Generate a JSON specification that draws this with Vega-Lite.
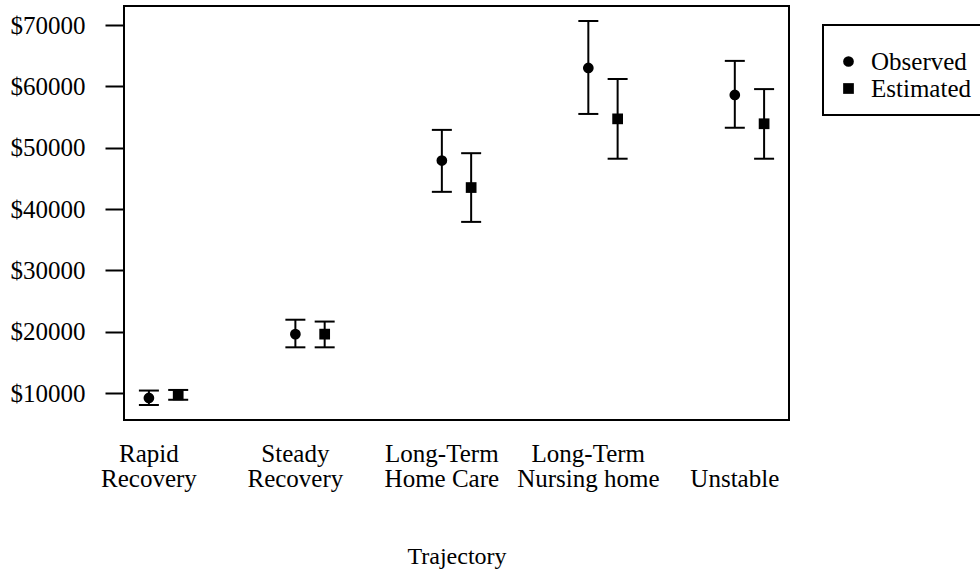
{
  "$schema": "https://vega.github.io/schema/vega-lite/v6.json",
  "width": 665,
  "height": 414,
  "autosize": {"type": "none"},
  "padding": {"left": 124, "top": 6, "right": 191, "bottom": 152},
  "background": "white",
  "config": {
    "view": {"stroke": "black", "strokeWidth": 2},
    "font": "Liberation Serif",
    "legend": {"strokeWidth": 2}
  },
  "data": {
    "values": [
      {"traj": "Rapid Recovery", "type": "Observed", "value": 9200, "lower": 8050, "upper": 10400},
      {"traj": "Rapid Recovery", "type": "Estimated", "value": 9700, "lower": 8900, "upper": 10500},
      {"traj": "Steady Recovery", "type": "Observed", "value": 19600, "lower": 17450, "upper": 21950},
      {"traj": "Steady Recovery", "type": "Estimated", "value": 19600, "lower": 17450, "upper": 21650},
      {"traj": "Long-Term Home Care", "type": "Observed", "value": 47900, "lower": 42800, "upper": 52900},
      {"traj": "Long-Term Home Care", "type": "Estimated", "value": 43500, "lower": 37900, "upper": 49100},
      {"traj": "Long-Term Nursing home", "type": "Observed", "value": 63000, "lower": 55500, "upper": 70650},
      {"traj": "Long-Term Nursing home", "type": "Estimated", "value": 54700, "lower": 48200, "upper": 61200},
      {"traj": "Unstable", "type": "Observed", "value": 58600, "lower": 53250, "upper": 64150},
      {"traj": "Unstable", "type": "Estimated", "value": 53900, "lower": 48200, "upper": 59550}
    ]
  },
  "encoding": {
    "x": {
      "field": "traj",
      "type": "nominal",
      "sort": ["Rapid Recovery", "Steady Recovery", "Long-Term Home Care", "Long-Term Nursing home", "Unstable"],
      "scale": {"paddingInner": 0.6, "paddingOuter": 0.07},
      "axis": {
        "title": "Trajectory",
        "titleFont": "Liberation Serif",
        "titleFontSize": 24,
        "titleFontWeight": "normal",
        "titleColor": "black",
        "titlePadding": 53,
        "labelAngle": 0,
        "labelFont": "Liberation Serif",
        "labelFontSize": 25,
        "labelColor": "black",
        "labelPadding": 21,
        "labelOffset": -14.65,
        "labelLineHeight": 25,
        "labelOverlap": false,
        "labelLimit": 0,
        "ticks": false,
        "tickSize": 0,
        "domain": false,
        "grid": false,
        "labelExpr": "datum.value == 'Rapid Recovery' ? ['Rapid', 'Recovery'] : datum.value == 'Steady Recovery' ? ['Steady', 'Recovery'] : datum.value == 'Long-Term Home Care' ? ['Long-Term', 'Home Care'] : datum.value == 'Long-Term Nursing home' ? ['Long-Term', 'Nursing home'] : [' ', datum.value]"
      }
    },
    "xOffset": {
      "field": "type",
      "type": "nominal",
      "sort": ["Observed", "Estimated"],
      "scale": {"paddingInner": 0, "paddingOuter": 0}
    }
  },
  "layer": [
    {
      "mark": {"type": "rule", "strokeWidth": 2, "color": "black"},
      "encoding": {
        "y": {
          "field": "lower",
          "type": "quantitative",
          "scale": {"domain": [5600, 73100], "nice": false, "zero": false},
          "axis": {
            "title": null,
            "values": [10000, 20000, 30000, 40000, 50000, 60000, 70000],
            "labelExpr": "'$' + datum.value",
            "labelFont": "Liberation Serif",
            "labelFontSize": 25,
            "labelColor": "black",
            "labelPadding": 20,
            "tickSize": 19,
            "tickWidth": 2,
            "tickColor": "black",
            "domain": false,
            "grid": false
          }
        },
        "y2": {"field": "upper"}
      }
    },
    {
      "mark": {"type": "tick", "size": 20, "thickness": 2, "color": "black", "opacity": 1},
      "encoding": {"y": {"field": "lower", "type": "quantitative"}}
    },
    {
      "mark": {"type": "tick", "size": 20, "thickness": 2, "color": "black", "opacity": 1},
      "encoding": {"y": {"field": "upper", "type": "quantitative"}}
    },
    {
      "mark": {"type": "point", "filled": true, "size": 115, "color": "black", "opacity": 1},
      "encoding": {
        "y": {"field": "value", "type": "quantitative"},
        "shape": {
          "field": "type",
          "type": "nominal",
          "scale": {"domain": ["Observed", "Estimated"], "range": ["circle", "square"]},
          "legend": {
            "orient": "none",
            "legendX": 699,
            "legendY": 19,
            "title": " ",
            "titleFontSize": 6,
            "titlePadding": 5,
            "strokeColor": "black",
            "padding": 13,
            "labelFont": "Liberation Serif",
            "labelFontSize": 25,
            "labelColor": "black",
            "labelOffset": 10,
            "rowPadding": 1,
            "symbolSize": 115,
            "symbolFillColor": "black",
            "symbolStrokeColor": "black",
            "symbolOpacity": 1
          }
        }
      }
    }
  ]
}
